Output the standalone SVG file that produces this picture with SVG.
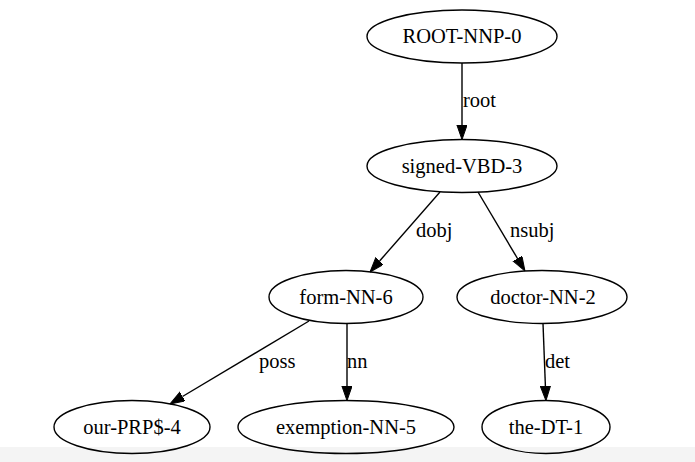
<svg xmlns="http://www.w3.org/2000/svg" width="695" height="462" viewBox="0 0 695 462">
  <style>
    .node ellipse { fill: none; stroke: #000; stroke-width: 1.4; }
    .node text { font-family: "Liberation Serif", "Times New Roman", serif; font-size: 20.5px; fill: #000; text-anchor: middle; }
    .edge line { stroke: #000; stroke-width: 1.4; marker-end: url(#arrow); }
    .edge text { font-family: "Liberation Serif", "Times New Roman", serif; font-size: 20.5px; fill: #000; text-anchor: start; }
  </style>
  <defs>
    <marker id="arrow" markerUnits="userSpaceOnUse" markerWidth="15" markerHeight="11" viewBox="0 0 15 11" refX="0" refY="5.1" orient="auto">
      <path d="M0,0 L14.6,5.1 L0,10.2 z" fill="#000" stroke="#000" stroke-width="1"/>
    </marker>
  </defs>

  <rect x="0" y="0" width="695" height="462" fill="#fff"/>
  <rect x="0" y="447" width="695" height="15" fill="#f4f4f4"/>

  <!-- dependency arcs -->
  <g id="edges">
    <g class="edge" id="e-root">
      <line x1="462" y1="63" x2="462" y2="125"/>
      <text x="463" y="107">root</text>
    </g>
    <g class="edge" id="e-dobj">
      <line x1="440" y1="192" x2="379.6" y2="261"/>
      <text x="416" y="237">dobj</text>
    </g>
    <g class="edge" id="e-nsubj">
      <line x1="478" y1="192" x2="517.5" y2="258.5"/>
      <text x="510" y="237">nsubj</text>
    </g>
    <g class="edge" id="e-poss">
      <line x1="309" y1="321" x2="182.5" y2="396.5"/>
      <text x="259" y="368">poss</text>
    </g>
    <g class="edge" id="e-nn">
      <line x1="347" y1="323.5" x2="347" y2="386"/>
      <text x="347" y="368">nn</text>
    </g>
    <g class="edge" id="e-det">
      <line x1="543" y1="323.5" x2="545.4" y2="386"/>
      <text x="545" y="368">det</text>
    </g>
  </g>

  <!-- tokens -->
  <g class="node" id="n-root">
    <ellipse cx="462" cy="36.5" rx="95" ry="26.5"/>
    <text x="462" y="43">ROOT-NNP-0</text>
  </g>
  <g class="node" id="n-signed">
    <ellipse cx="462" cy="166" rx="95" ry="26.5"/>
    <text x="462" y="172.5">signed-VBD-3</text>
  </g>
  <g class="node" id="n-form">
    <ellipse cx="346" cy="297" rx="77" ry="26.5"/>
    <text x="346" y="303.5">form-NN-6</text>
  </g>
  <g class="node" id="n-doctor">
    <ellipse cx="542" cy="297" rx="85" ry="26.5"/>
    <text x="543" y="303.5">doctor-NN-2</text>
  </g>
  <g class="node" id="n-our">
    <ellipse cx="132" cy="427" rx="78" ry="26.5"/>
    <text x="132" y="433.5">our-PRP$-4</text>
  </g>
  <g class="node" id="n-exemption">
    <ellipse cx="346" cy="427" rx="108" ry="26.5"/>
    <text x="346" y="433.5">exemption-NN-5</text>
  </g>
  <g class="node" id="n-the">
    <ellipse cx="546" cy="427" rx="64" ry="26.5"/>
    <text x="546" y="433.5">the-DT-1</text>
  </g>
</svg>
